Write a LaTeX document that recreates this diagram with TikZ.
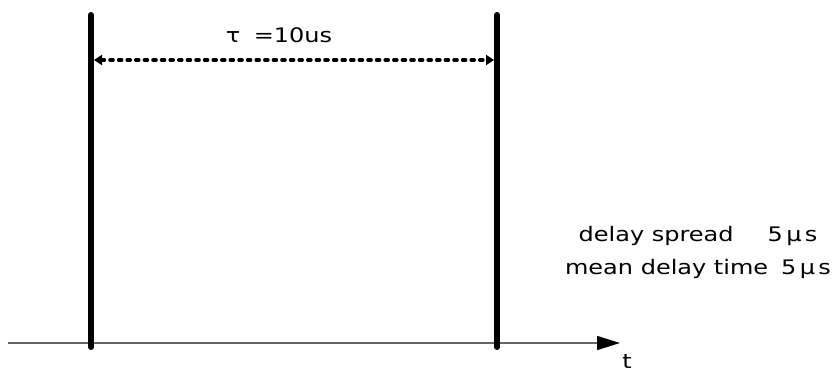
\documentclass[tikz,border=0pt]{standalone}
\usepackage{fontspec}
\setmainfont[FakeStretch=1.2]{DejaVu Sans}
\usetikzlibrary{arrows.meta}
\begin{document}
\begin{tikzpicture}[x=1pt,y=-1pt,
  bar/.style={line width=6pt,line cap=round,black},
  axisline/.style={line width=1.5pt,color=black!60,-{Triangle[length=23pt,width=14pt,color=black]}},
  dotline/.style={line width=3.8pt,dash pattern=on 2.8pt off 5.8pt,line cap=round,black,{Triangle[length=8pt,width=10pt]}-{Triangle[length=8pt,width=10pt]}},
  lbl/.style={inner sep=0pt,font=\fontsize{20}{33}\selectfont}]
\useasboundingbox (0,0) rectangle (836,373);
\coordinate (b1top) at (91,15);
\coordinate (b1bot) at (91,347);
\coordinate (b2top) at (497,15);
\coordinate (b2bot) at (497,347);
\coordinate (ax0) at (8,343);
\coordinate (ax1) at (620,343);
\coordinate (d1) at (94,60);
\coordinate (d2) at (494,60);
\draw[axisline] (ax0) -- (ax1);
\draw[bar] (b1top) -- (b1bot);
\draw[bar] (b2top) -- (b2bot);
\draw[dotline] (d1) -- (d2);
\node[lbl] (tau) at (279,35) {τ\hspace{0.3em} =10us};
\node[lbl,align=center] (info) at (698,252) {delay spread\hspace{1.7em}5\,μ\,s\\mean delay time\hspace{0.65em}5\,μ\,s};
\node[lbl] (t) at (627,361) {t};
\end{tikzpicture}
\end{document}
